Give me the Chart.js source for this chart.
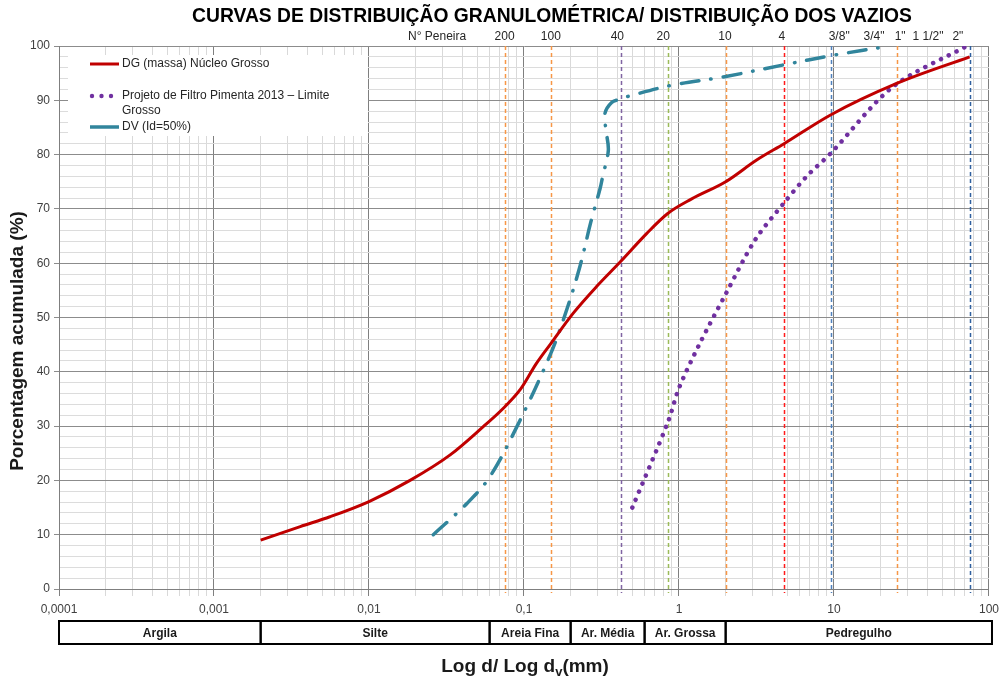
<!DOCTYPE html>
<html>
<head>
<meta charset="utf-8">
<script src="https://cdn.jsdelivr.net/npm/chart.js@4.4.0/dist/chart.umd.min.js"></script>
<style>
  body { margin: 0; background: #fff; }
  canvas { display: block; }
</style>
</head>
<body>
<canvas id="granChart" width="1005" height="681"></canvas>
<script>
// DG (massa) Núcleo Grosso - diâmetro (mm) x % passante
const dgDiam = [0.002, 0.0036, 0.0056, 0.01, 0.0184, 0.0334, 0.0546, 0.0736, 0.095, 0.12, 0.149, 0.208, 0.294, 0.42, 0.62, 0.85, 1.2, 2.0, 3.17, 4.76, 9.5, 25.4, 75];
const dgPass = [9, 11.5, 13.3, 16.1, 20, 24.7, 29.9, 33.3, 36.8, 41.5, 45.2, 50.8, 55.7, 60.3, 65.5, 69.2, 71.8, 75, 79, 82, 87.3, 93.1, 98];

// Projeto de Filtro Pimenta 2013 - Limite Grosso
const filtroDiam = [0.5, 0.85, 1.0, 1.35, 2.0, 3.1, 4.76, 6.67, 9.5, 24, 72];
const filtroPass = [15, 30.8, 37, 45, 54.3, 64.3, 71.1, 76, 80.2, 92.5, 100];

// DV (Id=50%) - distribuição dos vazios
const dvDiam = [0.026, 0.043, 0.06, 0.09, 0.149, 0.19, 0.23, 0.27, 0.31, 0.322, 0.35, 0.338, 0.333, 0.368, 0.416, 0.48, 0.91, 1.93, 4.7, 9.9, 23];
const dvPass = [10, 15.8, 20.6, 29.9, 43.4, 51.7, 59.5, 67.6, 73.8, 76, 80.8, 84.5, 87.6, 89.6, 90.2, 90.8, 92.8, 94.3, 96.5, 98.3, 100];

// peneiras (mm) marcadas com linhas verticais
const sieveMm = [0.075, 0.15, 0.42, 0.85, 2.0, 4.76, 9.5, 25.4, 75];
const sieveColors = ['#f79646', '#f79646', '#8064a2', '#9bbb59', '#f79646', '#ff1a1a', '#4f81bd', '#f79646', '#2f5f9e'];

// rótulos das peneiras no topo do gráfico
const peneiraLabels = ['N° Peneira', '200', '100', '40', '20', '10', '4', '3/8"', '3/4"', '1"', '1 1/2"', '2"'];
const peneiraAt = [0.0275, 0.075, 0.149, 0.40, 0.79, 1.98, 4.6, 10.8, 18.1, 26.7, 40.4, 63];

// classificação do solo (limites em mm)
const soilLimits = [0.0001, 0.002, 0.06, 0.2, 0.6, 2, 100];
const soilNames = ['Argila', 'Silte', 'Areia Fina', 'Ar. Média', 'Ar. Grossa', 'Pedregulho'];

// eixo x
const xTickLabels = ['0,0001', '0,001', '0,01', '0,1', '1', '10', '100'];
const xTickValues = [];
for (let e = -4; e < 2; e++) {
  for (let m = 1; m < 10; m++) xTickValues.push(m * Math.pow(10, e));
}
xTickValues.push(100);

const FONT = "'Liberation Sans', Arial, sans-serif";
const isDecade = v => Math.abs(Math.log10(v) - Math.round(Math.log10(v))) < 1e-6;
const toPoints = (xs, ys) => xs.map((d, i) => ({ x: d, y: ys[i] }));

const decorations = {
  id: 'decorations',
  beforeDatasetsDraw(chart) {
    const { ctx, chartArea: a, scales: { x } } = chart;
    ctx.save();
    // fundo branco da legenda
    ctx.fillStyle = '#fff';
    ctx.fillRect(68, 55, 300, 81);
    // linhas das peneiras
    ctx.lineWidth = 1.5;
    ctx.setLineDash([4, 3]);
    sieveMm.forEach((mm, i) => {
      const px = Math.round(x.getPixelForValue(mm)) + 0.5;
      ctx.strokeStyle = sieveColors[i];
      ctx.beginPath();
      ctx.moveTo(px, a.top);
      ctx.lineTo(px, a.bottom + 4);
      ctx.stroke();
    });
    ctx.restore();
  },
  afterDraw(chart) {
    const { ctx, scales: { x } } = chart;
    ctx.save();

    // título
    ctx.fillStyle = '#000';
    ctx.font = 'bold 19.3px ' + FONT;
    ctx.textAlign = 'center';
    ctx.textBaseline = 'middle';
    ctx.fillText('CURVAS DE DISTRIBUIÇÃO GRANULOMÉTRICA/ DISTRIBUIÇÃO DOS VAZIOS', 552, 17);

    // rótulos das peneiras
    ctx.font = '12px ' + FONT;
    ctx.fillStyle = '#262626';
    peneiraLabels.forEach((t, i) => {
      ctx.fillText(t, x.getPixelForValue(peneiraAt[i]), 37);
    });

    // tabela de classificação
    const top = 621, h = 23;
    ctx.strokeStyle = '#000';
    ctx.lineWidth = 2;
    ctx.font = 'bold 12px ' + FONT;
    ctx.fillStyle = '#1a1a1a';
    soilNames.forEach((name, i) => {
      const x0 = x.getPixelForValue(soilLimits[i]);
      const x1 = x.getPixelForValue(soilLimits[i + 1]) + (i === soilNames.length - 1 ? 3 : 0);
      ctx.strokeRect(x0, top, x1 - x0, h);
      ctx.fillText(name, (x0 + x1) / 2, top + h / 2 + 1);
    });

    // título do eixo x com subscrito
    const base = 'Log d/ Log d', sub = 'v', tail = '(mm)';
    ctx.font = 'bold 19px ' + FONT;
    const wBase = ctx.measureText(base).width;
    const wTail = ctx.measureText(tail).width;
    ctx.font = 'bold 13px ' + FONT;
    const wSub = ctx.measureText(sub).width;
    const cx = 525 - (wBase + wSub + wTail) / 2;
    ctx.textAlign = 'left';
    ctx.textBaseline = 'alphabetic';
    ctx.font = 'bold 19px ' + FONT;
    ctx.fillText(base, cx, 672);
    ctx.font = 'bold 13px ' + FONT;
    ctx.fillText(sub, cx + wBase, 676);
    ctx.font = 'bold 19px ' + FONT;
    ctx.fillText(tail, cx + wBase + wSub, 672);

    // título do eixo y
    ctx.save();
    ctx.translate(18, 341);
    ctx.rotate(-Math.PI / 2);
    ctx.textAlign = 'center';
    ctx.textBaseline = 'middle';
    ctx.fillText('Porcentagem acumulada (%)', 0, 0);
    ctx.restore();

    // legenda
    ctx.textAlign = 'left';
    ctx.textBaseline = 'middle';
    ctx.font = '12px ' + FONT;
    ctx.fillStyle = '#262626';
    ctx.lineCap = 'butt';
    ctx.strokeStyle = '#c00000';
    ctx.lineWidth = 3;
    ctx.beginPath(); ctx.moveTo(90, 64); ctx.lineTo(119, 64); ctx.stroke();
    ctx.fillText('DG (massa) Núcleo Grosso', 122, 64);

    ctx.fillStyle = '#7030a0';
    [92, 101.5, 111].forEach(px => {
      ctx.beginPath(); ctx.arc(px, 96, 2.2, 0, Math.PI * 2); ctx.fill();
    });
    ctx.fillStyle = '#262626';
    ctx.fillText('Projeto de Filtro Pimenta 2013 – Limite', 122, 96);
    ctx.fillText('Grosso', 122, 111);

    ctx.strokeStyle = '#31859c';
    ctx.lineWidth = 3.5;
    ctx.beginPath(); ctx.moveTo(90, 127); ctx.lineTo(119, 127); ctx.stroke();
    ctx.fillText('DV (Id=50%)', 122, 127);

    ctx.restore();
  }
};

new Chart(document.getElementById('granChart'), {
  type: 'scatter',
  data: {
    datasets: [
      {
        label: 'DG (massa) Núcleo Grosso',
        data: toPoints(dgDiam, dgPass),
        showLine: true,
        borderColor: '#c00000',
        borderWidth: 3,
        cubicInterpolationMode: 'monotone',
        pointRadius: 0
      },
      {
        label: 'Projeto de Filtro Pimenta 2013 – Limite Grosso',
        data: toPoints(filtroDiam, filtroPass),
        showLine: true,
        borderColor: '#7030a0',
        borderWidth: 4.5,
        borderDash: [0.1, 8.6],
        borderCapStyle: 'round',
        tension: 0.3,
        pointRadius: 0
      },
      {
        label: 'DV (Id=50%)',
        data: toPoints(dvDiam, dvPass),
        showLine: true,
        borderColor: '#31859c',
        borderWidth: 3.5,
        borderDash: [18, 12, 0.5, 12],
        borderCapStyle: 'round',
        tension: 0.35,
        pointRadius: 0
      }
    ]
  },
  options: {
    responsive: false,
    animation: false,
    devicePixelRatio: 1,
    layout: { padding: { top: 46, right: 16, bottom: 0, left: 0 } },
    plugins: {
      legend: { display: false },
      tooltip: { enabled: false }
    },
    scales: {
      x: {
        type: 'logarithmic',
        min: 0.0001,
        max: 100,
        afterBuildTicks: s => { s.ticks = xTickValues.map(v => ({ value: v, major: isDecade(v) })); },
        afterFit: s => { s.height = 92; },
        ticks: {
          autoSkip: false,
          maxRotation: 0,
          color: '#404040',
          font: { family: FONT, size: 12 },
          padding: 6,
          callback: v => isDecade(v) ? xTickLabels[Math.round(Math.log10(v)) + 4] : ''
        },
        grid: {
          color: c => (c.tick && isDecade(c.tick.value)) ? '#7f7f7f' : '#d9d9d9',
          tickColor: c => (c.tick && isDecade(c.tick.value)) ? '#7f7f7f' : '#d9d9d9',
          tickLength: 7
        },
        border: { color: '#7f7f7f' }
      },
      y: {
        min: 0,
        max: 100,
        afterFit: s => { s.width = 59; },
        ticks: {
          stepSize: 2,
          autoSkip: false,
          color: '#404040',
          font: { family: FONT, size: 12 },
          padding: 4,
          callback: v => v % 10 === 0 ? v : ''
        },
        grid: {
          color: c => (c.tick && c.tick.value % 10 === 0) ? '#8c8c8c' : '#dcdcdc',
          tickColor: c => (c.tick && c.tick.value % 10 === 0) ? '#8c8c8c' : 'rgba(0,0,0,0)',
          tickLength: 5
        },
        border: { color: '#7f7f7f' }
      }
    }
  },
  plugins: [decorations]
});
</script>
</body>
</html>
